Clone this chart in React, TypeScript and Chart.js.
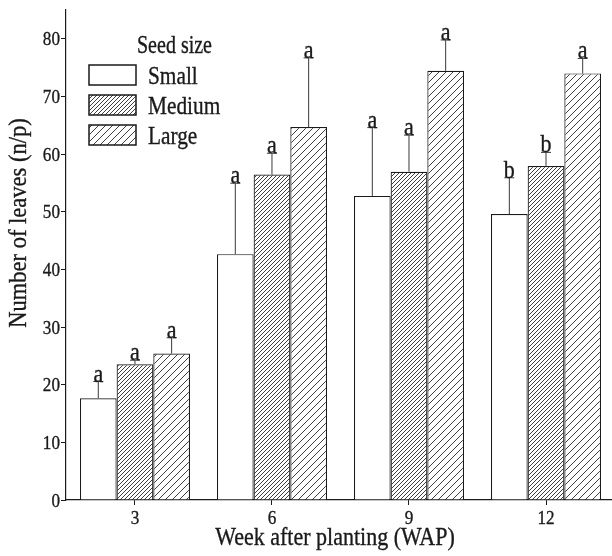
import { useEffect, useRef } from 'react';
import { Chart, registerables } from 'chart.js';

Chart.register(...registerables);

// Weeks after planting (x positions of the bar groups)
const weeks = [3, 6, 9, 12];
const seedSizes = ['Small', 'Medium', 'Large'];

// Mean number of leaves per plant
const smallLeaves = [17.65, 42.65, 52.75, 49.6];
const mediumLeaves = [23.55, 56.45, 56.95, 57.95];
const largeLeaves = [25.4, 64.7, 74.45, 74.0];

// Upper error (standard error) for each mean
const smallErr = [2.9, 12.3, 11.85, 6.3];
const mediumErr = [0.7, 3.7, 6.35, 2.35];
const largeErr = [2.75, 12.0, 5.35, 2.6];

// Mean separation letters
const smallLetters = ['a', 'a', 'a', 'b'];
const mediumLetters = ['a', 'a', 'a', 'b'];
const largeLetters = ['a', 'a', 'a', 'a'];

const yTickValues = [0, 10, 20, 30, 40, 50, 60, 70, 80];

const SERIF = "'Liberation Serif', 'Times New Roman', serif";
const INK = '#1a1a1a';

function makeHatch(spacing: number): CanvasPattern | string {
  const c = document.createElement('canvas');
  c.width = spacing;
  c.height = spacing;
  const g = c.getContext('2d');
  if (!g) return '#fff';
  g.fillStyle = '#fff';
  g.fillRect(0, 0, spacing, spacing);
  g.strokeStyle = '#2a2a2a';
  g.lineWidth = 0.9;
  g.beginPath();
  g.moveTo(0, spacing);
  g.lineTo(spacing, 0);
  g.moveTo(-1, 1);
  g.lineTo(1, -1);
  g.moveTo(spacing - 1, spacing + 1);
  g.lineTo(spacing + 1, spacing - 1);
  g.stroke();
  const p = g.createPattern(c, 'repeat');
  return p ?? '#fff';
}

// Narrow, tall serif text: the face is squeezed horizontally by `sx`.
function tallText(
  ctx: CanvasRenderingContext2D,
  text: string,
  x: number,
  y: number,
  size: number,
  sx: number,
  align: CanvasTextAlign,
  rotate = 0,
) {
  ctx.save();
  ctx.translate(x, y);
  if (rotate) ctx.rotate(rotate);
  ctx.scale(sx, 1);
  ctx.font = `${size}px ${SERIF}`;
  ctx.fillStyle = INK;
  ctx.strokeStyle = INK;
  ctx.lineWidth = 0.35;
  ctx.textAlign = align;
  ctx.textBaseline = 'alphabetic';
  ctx.fillText(text, 0, 0);
  ctx.strokeText(text, 0, 0);
  ctx.restore();
}

export default function App() {
  const canvasRef = useRef<HTMLCanvasElement | null>(null);

  useEffect(() => {
    const canvas = canvasRef.current;
    if (!canvas) return;

    const fills = ['#ffffff', makeHatch(4), makeHatch(7)];
    const series = [smallLeaves, mediumLeaves, largeLeaves];
    const errors = [smallErr, mediumErr, largeErr];
    const letters = [smallLetters, mediumLetters, largeLetters];

    const errorBars = {
      id: 'errorBars',
      afterDatasetsDraw(chart: any) {
        const ctx = chart.ctx as CanvasRenderingContext2D;
        const yScale = chart.scales.y;
        ctx.save();
        series.forEach((vals, di) => {
          const meta = chart.getDatasetMeta(di);
          meta.data.forEach((bar: any, i: number) => {
            const x = bar.x;
            const yTop = yScale.getPixelForValue(vals[i]);
            const yErr = yScale.getPixelForValue(vals[i] + errors[di][i]);
            ctx.strokeStyle = '#3a3a3a';
            ctx.lineWidth = 1;
            ctx.beginPath();
            ctx.moveTo(x, yTop);
            ctx.lineTo(x, yErr);
            ctx.moveTo(x - 5, yErr);
            ctx.lineTo(x + 5, yErr);
            ctx.stroke();
            tallText(ctx, letters[di][i], x, yErr, 25, 0.88, 'center');
          });
        });
        ctx.restore();
      },
    };

    const axisText = {
      id: 'axisText',
      afterDraw(chart: any) {
        const ctx = chart.ctx as CanvasRenderingContext2D;
        const xs = chart.scales.x;
        const ys = chart.scales.y;
        const area = chart.chartArea;
        yTickValues.forEach((v) => {
          tallText(ctx, String(v), ys.right - 6, ys.getPixelForValue(v) + 6.5, 19.5, 0.88, 'right');
        });
        weeks.forEach((w) => {
          tallText(ctx, String(w), xs.getPixelForValue(w), 524, 19.5, 0.88, 'center');
        });
        tallText(ctx, 'Week after planting (WAP)', (area.left + area.right) / 2 - 4, 545, 25, 0.88, 'center');
        tallText(ctx, 'Number of leaves (n/p)', 26, 223, 25, 0.9, 'center', -Math.PI / 2);
      },
    };

    const seedLegend = {
      id: 'seedLegend',
      afterDraw(chart: any) {
        const ctx = chart.ctx as CanvasRenderingContext2D;
        ctx.save();
        tallText(ctx, 'Seed size', 137, 53, 25, 0.8, 'left');
        seedSizes.forEach((name, k) => {
          const top = 65 + k * 30;
          ctx.fillStyle = fills[k] as any;
          ctx.fillRect(89, top, 47, 20);
          ctx.strokeStyle = INK;
          ctx.lineWidth = 1.5;
          ctx.strokeRect(89, top, 47, 20);
          tallText(ctx, name, 148, top + 18.5, 26, 0.82, 'left');
        });
        ctx.restore();
      },
    };

    const chart = new Chart(canvas, {
      type: 'bar',
      data: {
        datasets: seedSizes.map((name, k) => ({
          label: name,
          data: weeks.map((w, i) => ({ x: w, y: series[k][i] })),
          backgroundColor: fills[k] as any,
          borderColor: INK,
          borderWidth: 1.2,
          categoryPercentage: 0.803,
          barPercentage: 1,
        })),
      },
      options: {
        responsive: false,
        animation: false,
        devicePixelRatio: 1,
        layout: { padding: { top: 10, right: 0, left: 0, bottom: 0 } },
        plugins: {
          legend: { display: false },
          tooltip: { enabled: false },
        },
        scales: {
          x: {
            type: 'linear',
            min: 1.49,
            max: 13.445,
            offset: false,
            grid: { offset: false, drawOnChartArea: false, drawTicks: true, tickLength: 5, color: INK },
            border: { display: true, color: INK, width: 1.2 },
            ticks: { display: false },
            afterBuildTicks: (s: any) => {
              s.ticks = weeks.map((v) => ({ value: v }));
            },
            afterFit: (s: any) => {
              s.height = 56;
            },
          },
          y: {
            type: 'linear',
            min: 0,
            max: 85,
            grid: { drawOnChartArea: false, drawTicks: true, tickLength: 5, color: INK },
            border: { display: true, color: INK, width: 1.2 },
            ticks: { display: false, stepSize: 10 },
            afterBuildTicks: (s: any) => {
              s.ticks = yTickValues.map((v) => ({ value: v }));
            },
            afterFit: (s: any) => {
              s.width = 66;
            },
          },
        },
      },
      plugins: [errorBars, axisText, seedLegend],
    });

    return () => chart.destroy();
  }, []);

  return (
    <div style={{ position: 'fixed', left: 0, top: 0, width: 612, height: 556, background: '#fff' }}>
      <canvas ref={canvasRef} width={612} height={556} style={{ display: 'block' }} />
    </div>
  );
}
